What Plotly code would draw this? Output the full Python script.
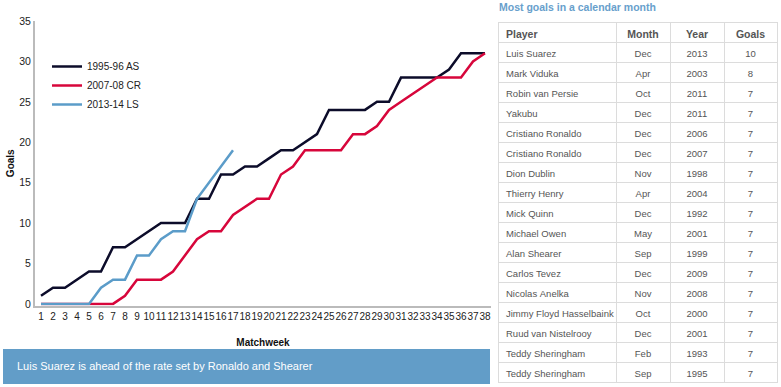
import plotly.graph_objects as go

matchweeks = list(range(1, 39))
as_9596 = [1, 2, 2, 3, 4, 4, 7, 7, 8, 9, 10, 10, 10, 13, 13, 16, 16, 17, 17, 18,
           19, 19, 20, 21, 24, 24, 24, 24, 25, 25, 28, 28, 28, 28, 29, 31, 31, 31]
cr_0708 = [0, 0, 0, 0, 0, 0, 0, 1, 3, 3, 3, 4, 6, 8, 9, 9, 11, 12, 13, 13,
           16, 17, 19, 19, 19, 19, 21, 21, 22, 24, 25, 26, 27, 28, 28, 28, 30, 31]
ls_1314 = [0, 0, 0, 0, 0, 2, 3, 3, 6, 6, 8, 9, 9, 13, 15, 17, 19]

table_headers = ["Player", "Month", "Year", "Goals"]
players = ["Luis Suarez", "Mark Viduka", "Robin van Persie", "Yakubu", "Cristiano Ronaldo",
           "Cristiano Ronaldo", "Dion Dublin", "Thierry Henry", "Mick Quinn", "Michael Owen",
           "Alan Shearer", "Carlos Tevez", "Nicolas Anelka", "Jimmy Floyd Hasselbaink",
           "Ruud van Nistelrooy", "Teddy Sheringham", "Teddy Sheringham"]
months = ["Dec", "Apr", "Oct", "Dec", "Dec", "Dec", "Nov", "Apr", "Dec", "May",
          "Sep", "Dec", "Nov", "Oct", "Dec", "Feb", "Sep"]
years = [2013, 2003, 2011, 2011, 2006, 2007, 1998, 2004, 1992, 2001,
         1999, 2009, 2008, 2000, 2001, 1993, 1995]
goals = [10, 8, 7, 7, 7, 7, 7, 7, 7, 7, 7, 7, 7, 7, 7, 7, 7]

W, H = 781, 387
def px(x): return x / W
def py(y): return 1 - y / H

# non-breaking spaces keep long names on one line in the table
players_nb = [p.replace(" ", "\u00a0") for p in players]

fig = go.Figure()
fig.add_trace(go.Scatter(x=matchweeks, y=as_9596, mode="lines", name="1995-96 AS",
                         line=dict(color="#0c0c2a", width=2.5)))
fig.add_trace(go.Scatter(x=matchweeks, y=cr_0708, mode="lines", name="2007-08 CR",
                         line=dict(color="#d7063b", width=2.5)))
fig.add_trace(go.Scatter(x=matchweeks[:len(ls_1314)], y=ls_1314, mode="lines", name="2013-14 LS",
                         line=dict(color="#5b9cc9", width=2.5)))

fig.add_trace(go.Table(
    domain=dict(x=[px(498), px(777)], y=[py(383), py(22)]),
    columnwidth=[118, 54, 54, 53],
    header=dict(values=table_headers,
                align=["left", "center", "center", "center"],
                fill_color="white", line_color="#dcdcdc", height=20,
                font=dict(family="Arial", size=10.5, color="#555555", weight="bold")),
    cells=dict(values=[players_nb, months, years, goals],
               align=["left", "center", "center", "center"],
               fill_color="white", line_color="#dcdcdc", height=20,
               font=dict(family="Arial", size=9.5, color="#555555")),
))

fig.update_layout(
    width=W, height=H, margin=dict(l=0, r=0, t=0, b=0, autoexpand=False),
    paper_bgcolor="white", plot_bgcolor="white",
    font=dict(family="Arial", size=10, color="#222222"),
    showlegend=True,
    legend=dict(x=px(47), y=py(52), xanchor="left", yanchor="top",
                bgcolor="rgba(0,0,0,0)", font=dict(size=10, color="#222222"),
                itemwidth=30, tracegroupgap=0),
    xaxis=dict(domain=[px(35), px(491)], range=[0.5, 38.5], tickmode="linear", tick0=1, dtick=1,
               showgrid=False, zeroline=False, showline=True, linecolor="#bbbbbb", linewidth=2,
               ticks="", tickangle=0, automargin=False, tickfont=dict(size=10, color="#222222"),
               title=dict(text="<b>Matchweek</b>", font=dict(size=10, color="#111111"), standoff=18)),
    yaxis=dict(domain=[py(305.5), py(21)], range=[-0.2, 35], tickvals=[0, 5, 10, 15, 20, 25, 30, 35],
               showgrid=False, zeroline=False, showline=True, linecolor="#bbbbbb", linewidth=2,
               ticks="", automargin=False, tickfont=dict(size=10.5, color="#222222"),
               title=dict(text="<b>Goals</b>", font=dict(size=10, color="#111111"), standoff=3)),
    shapes=[dict(type="rect", xref="paper", yref="paper",
                 x0=px(3), x1=px(490), y0=py(384), y1=py(349),
                 fillcolor="#629dc8", line=dict(width=0))],
    annotations=[
        dict(text="Luis Suarez is ahead of the rate set by Ronaldo and Shearer",
             xref="paper", yref="paper", x=px(15), y=py(366), xanchor="left", yanchor="middle",
             showarrow=False, font=dict(size=11, color="white")),
        dict(text="<b>Most goals in a calendar month</b>",
             xref="paper", yref="paper", x=px(497), y=py(7), xanchor="left", yanchor="middle",
             showarrow=False, font=dict(size=10.5, color="#68a0cc")),
    ],
)

fig.write_html("out.html", config={"displayModeBar": False},
               post_script="document.body.style.margin='0';")
